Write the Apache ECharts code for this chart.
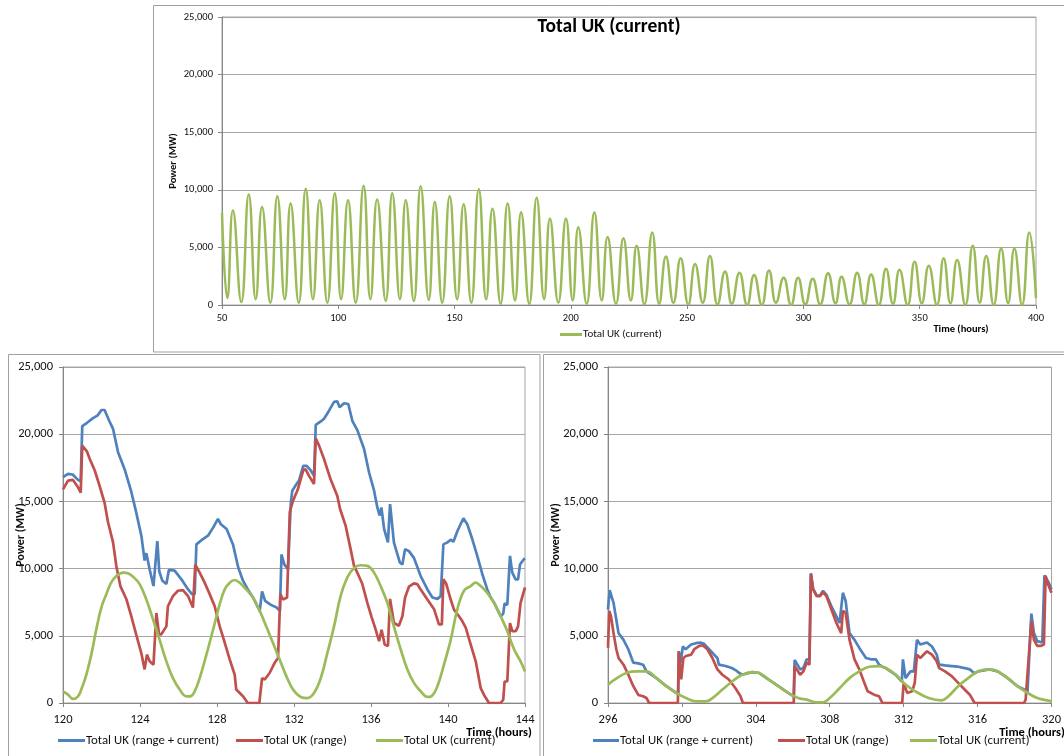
<!DOCTYPE html>
<html><head><meta charset="utf-8">
<script src="https://cdn.jsdelivr.net/npm/echarts@6/dist/echarts.min.js"></script>
<style>html,body{margin:0;padding:0;background:#fff}#c{width:1064px;height:756px}</style>
</head><body><div id="c"></div>
<script>
// ---------- DATA (hour, MW) ----------
const NAME_BOTH = 'Total UK (range + current)';
const NAME_RANGE = 'Total UK (range)';
const NAME_CURRENT = 'Total UK (current)';
const yTicks = [0, 5000, 10000, 15000, 20000, 25000];
const topXTicks = [50, 100, 150, 200, 250, 300, 350, 400];
const leftXTicks = [120, 124, 128, 132, 136, 140, 144];
const rightXTicks = [296, 300, 304, 308, 312, 316, 320];

// Top panel: Total UK (current), hours 50-400 (peaks and troughs)
const topCurrent = [[50,8000],[52.3,600],[54.7,8200],[58.3,250],[61.5,9600],[64.5,500],[67.2,8500],[70.8,200],[73.8,9450],[77.0,500],[79.5,8800],[83.0,200],[86.0,10100],[89.1,500],[92.0,9100],[95.3,200],[98.5,9700],[101.2,500],[104.2,9100],[107.5,200],[110.9,10350],[113.8,500],[116.7,9150],[120.4,350],[123.2,9700],[126.5,500],[129.0,9100],[132.5,350],[135.4,10300],[138.9,450],[141.5,8950],[144.7,200],[147.9,9450],[151.1,500],[153.9,8750],[157.2,200],[160.4,10050],[163.6,500],[166.3,8350],[169.8,100],[172.8,8800],[176.0,400],[178.6,8050],[182.1,100],[185.3,9300],[188.5,500],[191.0,7500],[194.6,200],[197.9,7500],[200.8,400],[203.2,6750],[206.8,100],[210.1,8050],[213.3,400],[215.8,5900],[219.4,100],[222.6,5800],[225.8,400],[228.3,5150],[231.6,50],[235.0,6300],[238.0,100],[240.9,4200],[244.1,200],[247.2,4050],[250.5,50],[253.4,3550],[256.7,200],[259.8,4250],[263.1,50],[266.3,2900],[269.2,100],[272.5,2800],[275.8,0],[278.8,2600],[282.1,0],[285.2,3000],[288.2,200],[291.5,2370],[294.7,0],[297.7,2370],[300.8,50],[304.0,2280],[307.2,50],[310.6,2750],[313.8,150],[316.4,2450],[319.8,50],[323.1,2800],[326.2,50],[329.1,2650],[332.4,0],[335.5,3150],[338.5,100],[341.3,3050],[344.8,0],[347.8,3750],[350.9,150],[353.9,3400],[357.4,0],[360.3,4050],[363.2,150],[366.1,3900],[369.6,0],[372.8,5150],[375.8,200],[378.6,4250],[381.8,0],[385.0,4900],[388.0,150],[390.7,4900],[394.0,0],[397.1,6300],[400,600]];

// Bottom-left panel: hours 120-144
const leftBoth = [[120.0,16800],[120.26,17050],[120.5,17000],[120.78,16600],[120.92,16500],[121.0,20600],[121.25,20850],[121.56,21200],[121.8,21400],[122.0,21800],[122.16,21800],[122.4,21000],[122.6,20400],[122.86,18650],[123.2,17400],[123.55,15700],[123.8,14200],[124.07,12450],[124.24,10600],[124.33,11150],[124.5,9950],[124.7,8700],[124.9,12050],[125.0,9800],[125.16,9100],[125.37,8850],[125.5,9900],[125.8,9850],[126.15,9200],[126.5,8450],[126.7,8100],[126.84,8100],[126.93,11800],[127.27,12200],[127.53,12450],[127.8,13050],[128.05,13700],[128.2,13300],[128.5,12950],[128.83,11800],[129.1,10100],[129.35,9100],[129.6,8450],[129.87,7850],[130.22,6850],[130.34,8300],[130.5,7600],[130.8,7300],[131.1,7100],[131.27,6850],[131.35,11050],[131.5,10300],[131.69,9950],[131.83,14800],[131.91,15800],[132.09,16200],[132.26,16550],[132.48,17650],[132.66,17650],[132.87,17300],[133.04,16900],[133.13,20700],[133.39,20950],[133.56,21150],[133.82,21750],[134.08,22400],[134.25,22450],[134.37,22000],[134.6,22300],[134.82,22250],[135.03,21000],[135.29,20300],[135.64,18900],[135.9,17150],[136.16,15800],[136.33,14550],[136.45,13950],[136.54,14550],[136.68,12950],[136.88,11950],[136.99,14800],[137.19,11950],[137.5,10450],[137.63,10300],[137.77,11450],[137.97,11300],[138.23,10800],[138.58,9450],[138.93,8450],[139.19,7850],[139.45,7750],[139.62,7950],[139.76,11800],[139.97,11950],[140.14,12150],[140.28,12000],[140.49,12800],[140.8,13750],[141.0,13300],[141.26,12200],[141.52,10950],[141.78,9600],[142.04,8450],[142.2,7900],[142.4,7450],[142.74,6450],[142.87,6650],[142.94,7400],[143.08,7300],[143.22,10950],[143.34,9700],[143.51,9200],[143.64,9200],[143.74,10300],[143.94,10700],[144.0,10750]];
const leftRange = [[120.0,15900],[120.26,16550],[120.52,16600],[120.78,16050],[120.92,15650],[121.0,19150],[121.25,18700],[121.39,18150],[121.65,17300],[121.9,16150],[122.16,14900],[122.34,13450],[122.6,11950],[122.77,10200],[122.98,8700],[123.3,7700],[123.55,6450],[123.8,5100],[124.07,3700],[124.24,2500],[124.36,3600],[124.5,3100],[124.7,2850],[124.85,6700],[124.99,5100],[125.1,5100],[125.37,5700],[125.45,7200],[125.71,7950],[125.97,8350],[126.23,8400],[126.5,7950],[126.75,7100],[126.87,10300],[127.1,9700],[127.36,8950],[127.62,8100],[127.88,7200],[128.14,5700],[128.4,4500],[128.66,3250],[128.92,2100],[129.0,1000],[129.35,500],[129.6,0],[130.2,0],[130.34,1850],[130.48,1750],[130.74,2250],[131.0,3000],[131.17,3350],[131.29,8100],[131.43,7700],[131.64,7850],[131.78,14200],[131.95,15050],[132.2,15900],[132.48,17300],[132.6,17400],[132.78,16900],[133.04,16300],[133.13,19700],[133.3,19150],[133.56,18150],[133.9,16650],[134.25,15400],[134.39,14450],[134.68,13200],[134.94,11450],[135.12,10200],[135.32,9600],[135.55,8850],[135.81,7450],[136.02,6450],[136.19,5700],[136.42,4600],[136.55,5450],[136.71,4350],[136.88,4250],[136.99,7750],[137.19,5950],[137.45,5750],[137.63,6450],[137.77,7850],[137.97,8650],[138.23,8900],[138.4,8850],[138.58,8450],[138.93,7700],[139.27,7000],[139.53,5850],[139.68,5850],[139.76,9200],[139.9,8900],[140.14,7700],[140.31,6950],[140.57,6450],[140.74,6100],[140.92,5600],[141.18,4350],[141.44,3100],[141.7,1100],[141.87,600],[142.13,0],[142.74,0],[142.87,250],[142.94,1600],[143.08,1600],[143.22,5950],[143.34,5350],[143.52,5350],[143.64,5700],[143.77,7450],[144.0,8600]];
const leftCurrent = [[120.0,870],[120.26,620],[120.52,300],[120.78,500],[120.95,1000],[121.21,2100],[121.47,3600],[121.73,5470],[121.99,7100],[122.25,8100],[122.5,8950],[122.77,9450],[123.12,9700],[123.38,9650],[123.64,9400],[123.98,8850],[124.33,7700],[124.68,6200],[125.02,4700],[125.37,3100],[125.71,1850],[126.06,1000],[126.41,500],[126.6,500],[126.84,870],[127.1,1850],[127.45,3600],[127.8,5470],[128.14,7350],[128.4,8450],[128.66,8950],[128.92,9150],[129.18,8950],[129.52,8450],[129.87,7850],[130.22,6850],[130.56,5700],[130.9,4500],[131.25,3250],[131.6,2000],[131.95,1000],[132.35,450],[132.69,370],[133.04,750],[133.39,1850],[133.73,3700],[134.08,5700],[134.42,7950],[134.77,9350],[135.12,10050],[135.46,10250],[135.81,10200],[136.16,9700],[136.5,8700],[136.85,7450],[137.19,5700],[137.54,4000],[137.89,2500],[138.23,1500],[138.58,870],[138.93,450],[139.13,500],[139.45,1250],[139.79,2850],[140.14,4700],[140.48,6950],[140.83,8350],[141.18,8700],[141.44,8950],[141.7,8700],[142.04,8200],[142.39,7450],[142.74,6450],[143.08,5350],[143.43,4000],[143.77,3100],[144.0,2350]];

// Bottom-right panel: hours 296-320
const rightBoth = [[296.0,6950],[296.09,8400],[296.18,8300],[296.3,7450],[296.45,6200],[296.57,5200],[296.84,4700],[297.1,4000],[297.37,3000],[297.64,2950],[297.9,2850],[298.08,2350],[298.62,1850],[299.16,1250],[299.69,750],[299.8,700],[299.83,3850],[299.93,3000],[300.05,4200],[300.2,4000],[300.5,4350],[300.76,4450],[301.0,4500],[301.2,4400],[301.47,4000],[301.74,3600],[301.92,3350],[302.0,2850],[302.36,2750],[302.7,2600],[302.9,2450],[303.08,2250],[303.26,2100],[303.8,2300],[304.15,2250],[304.68,1750],[305.22,1250],[305.75,750],[306.05,500],[306.1,3200],[306.4,2500],[306.57,2600],[306.75,3250],[306.9,3200],[306.98,9650],[307.1,8500],[307.29,8000],[307.47,8000],[307.64,8350],[307.82,8050],[308.09,7200],[308.36,6450],[308.53,5950],[308.71,8200],[308.86,7600],[309.07,5200],[309.34,4700],[309.6,4100],[309.96,3350],[310.23,3250],[310.5,3250],[310.67,2850],[310.85,2700],[311.03,2600],[311.57,2100],[311.9,1600],[311.96,3250],[312.1,1850],[312.37,2350],[312.55,2350],[312.72,4700],[312.9,4350],[313.26,4500],[313.53,4200],[313.79,3600],[313.92,2850],[314.24,2800],[314.6,2750],[314.95,2700],[315.3,2600],[315.58,2500],[315.84,2200],[316.02,2350],[316.65,2500],[317.09,2350],[317.63,1850],[318.16,1250],[318.52,1000],[318.7,800],[318.91,6650],[319.05,5200],[319.23,4600],[319.5,4500],[319.62,9500],[319.85,8950],[320.0,8450]];
const rightRange = [[296.0,4100],[296.07,6850],[296.16,6450],[296.3,5200],[296.45,4000],[296.57,3350],[296.84,2850],[297.1,2100],[297.37,1250],[297.64,600],[297.9,500],[298.08,370],[298.23,0],[299.78,0],[299.83,3850],[299.96,1750],[300.08,3350],[300.22,3500],[300.5,3600],[300.67,4000],[300.94,4250],[301.12,4300],[301.38,4000],[301.65,3350],[301.92,2500],[302.19,2100],[302.54,1750],[302.9,1100],[303.17,500],[303.3,0],[306.05,0],[306.1,2750],[306.4,2100],[306.57,2350],[306.75,3000],[306.9,2850],[306.98,9600],[307.1,8450],[307.29,7950],[307.47,7950],[307.64,8250],[307.82,7950],[308.09,6950],[308.36,5950],[308.62,5200],[308.71,6850],[308.86,6700],[309.07,4700],[309.34,3250],[309.6,2500],[309.87,1500],[310.05,870],[310.4,620],[310.67,500],[310.85,0],[311.92,0],[312.0,1500],[312.19,750],[312.46,870],[312.6,1500],[312.72,3600],[312.9,3350],[313.26,3850],[313.53,3600],[313.79,3100],[313.92,2600],[314.24,2350],[314.6,2000],[314.95,1500],[315.3,1000],[315.58,620],[315.84,0],[318.52,0],[318.6,250],[318.7,300],[318.91,6100],[319.05,4700],[319.23,4250],[319.41,4250],[319.59,4350],[319.68,9450],[319.85,8700],[320.0,8200]];
const rightCurrent = [[296.0,1370],[296.48,1850],[297.02,2250],[297.55,2350],[298.08,2350],[298.62,1850],[299.16,1250],[299.69,750],[300.22,370],[300.76,120],[301.29,120],[301.65,370],[302.19,1000],[302.72,1600],[303.26,2100],[303.8,2300],[304.15,2250],[304.68,1750],[305.22,1250],[305.75,750],[306.29,370],[306.75,250],[307.29,50],[307.64,50],[308.0,370],[308.53,1100],[309.07,1850],[309.6,2350],[310.14,2700],[310.67,2750],[311.03,2600],[311.57,2100],[312.1,1370],[312.63,870],[313.35,370],[314.06,200],[314.42,500],[314.95,1250],[315.49,1850],[316.02,2350],[316.65,2500],[317.09,2350],[317.63,1850],[318.16,1250],[318.7,750],[319.23,370],[319.76,200],[320.0,120]];

// ---------- STYLE ----------
const FONT = 'Carlito, Lato, sans-serif';
const BLUE = '#4F81BD', RED = '#C0504D', GREEN = '#9BBB59';
const AXIS = '#868686', GRIDC = '#A6A6A6', TXT = '#111';
const fmt = v => v.toLocaleString('en-US');

function xAxisCfg(gi, ticks, fs, margin) {
  return {
    type: 'value', gridIndex: gi, min: ticks[0], max: ticks[ticks.length - 1],
    interval: ticks[1] - ticks[0],
    axisLine: { show: true, onZero: false, lineStyle: { color: AXIS, width: 1 } },
    axisTick: { show: true, length: 4, lineStyle: { color: AXIS } },
    axisLabel: { fontFamily: FONT, fontSize: fs, color: TXT, margin: margin },
    splitLine: { show: false }
  };
}
function yAxisCfg(gi, fs, nameFs, gap, margin) {
  return {
    type: 'value', gridIndex: gi, min: yTicks[0], max: yTicks[yTicks.length - 1],
    interval: yTicks[1] - yTicks[0],
    name: 'Power (MW)', nameLocation: 'middle', nameGap: gap, nameRotate: 90,
    nameMoveOverlap: false,
    nameTextStyle: { fontFamily: FONT, fontSize: nameFs, fontWeight: 'bold', color: TXT },
    axisLine: { show: true, lineStyle: { color: AXIS, width: 1 } },
    axisTick: { show: true, length: 4, lineStyle: { color: AXIS } },
    axisLabel: { fontFamily: FONT, fontSize: fs, color: TXT, margin: margin, formatter: fmt },
    splitLine: { show: true, lineStyle: { color: GRIDC, width: 1 } }
  };
}
function line(name, data, color, xi, w, smooth) {
  return {
    type: 'line', name, data, xAxisIndex: xi, yAxisIndex: xi,
    showSymbol: false, symbol: 'none', smooth: smooth,
    lineStyle: { color, width: w }, itemStyle: { color }, animation: false
  };
}
function legendItem(name, left, top, fs, w) {
  return {
    data: [name], left, top, icon: 'rect', itemWidth: w, itemHeight: 3, itemGap: 0,
    padding: 0, selectedMode: false,
    textStyle: { fontFamily: FONT, fontSize: fs, color: TXT, padding: [0, 0, 0, -4] }
  };
}

const gridStyle = { show: true, borderColor: GRIDC, borderWidth: 1, backgroundColor: 'transparent', containLabel: false };

const option = {
  backgroundColor: '#fff',
  animation: false,
  grid: [
    Object.assign({ left: 222, top: 17, width: 814, height: 288 }, gridStyle),
    Object.assign({ left: 63, top: 367, width: 462, height: 336 }, gridStyle),
    Object.assign({ left: 608, top: 367, width: 450, height: 336 }, gridStyle)
  ],
  xAxis: [xAxisCfg(0, topXTicks, 10.5, 8), xAxisCfg(1, leftXTicks, 12.5, 10), xAxisCfg(2, rightXTicks, 12.5, 10)],
  yAxis: [yAxisCfg(0, 10.5, 10.5, 43, 9), yAxisCfg(1, 12.5, 12, 36, 10), yAxisCfg(2, 12.5, 12, 46, 10)],
  legend: [
    legendItem(NAME_CURRENT, 560, 329, 11, 22),
    legendItem(NAME_BOTH, 58, 734, 12.8, 27),
    legendItem(NAME_RANGE, 236, 734, 12.8, 27),
    legendItem(NAME_CURRENT, 376, 734, 12.8, 27),
    legendItem(NAME_BOTH, 593, 734, 12.8, 26),
    legendItem(NAME_RANGE, 778, 734, 12.8, 27),
    legendItem(NAME_CURRENT, 910, 734, 12.8, 27)
  ],
  series: [
    line(NAME_CURRENT, topCurrent, GREEN, 0, 2.5, 0.5),
    line(NAME_BOTH, leftBoth, BLUE, 1, 2.7, false),
    line(NAME_RANGE, leftRange, RED, 1, 2.7, false),
    line(NAME_CURRENT, leftCurrent, GREEN, 1, 2.7, 0.4),
    line(NAME_BOTH, rightBoth, BLUE, 2, 2.7, false),
    line(NAME_RANGE, rightRange, RED, 2, 2.7, false),
    line(NAME_CURRENT, rightCurrent, GREEN, 2, 2.7, 0.4)
  ],
  graphic: [
    { type: 'rect', shape: { x: 153.5, y: 5.5, width: 930, height: 346.5 }, style: { fill: 'none', stroke: '#A0A0A0', lineWidth: 1 }, silent: true, z: -1 },
    { type: 'rect', shape: { x: 8.5, y: 354.5, width: 531.5, height: 420 }, style: { fill: 'none', stroke: '#A0A0A0', lineWidth: 1 }, silent: true, z: -1 },
    { type: 'rect', shape: { x: 543.5, y: 354.5, width: 540, height: 420 }, style: { fill: 'none', stroke: '#A0A0A0', lineWidth: 1 }, silent: true, z: -1 },
    { type: 'text', x: 609, y: 27, style: { text: 'Total UK (current)', font: 'bold 19.5px ' + FONT, fill: '#000', textAlign: 'center', textVerticalAlign: 'middle' }, z: 10 },
    { type: 'text', x: 961, y: 329, style: { text: 'Time (hours)', font: 'bold 10.5px ' + FONT, fill: '#000', textAlign: 'center', textVerticalAlign: 'middle' }, z: 10 },
    { type: 'text', x: 499, y: 733, style: { text: 'Time (hours)', font: 'bold 12.5px ' + FONT, fill: '#000', textAlign: 'center', textVerticalAlign: 'middle' }, z: 10 },
    { type: 'text', x: 1032, y: 733, style: { text: 'Time (hours)', font: 'bold 12.5px ' + FONT, fill: '#000', textAlign: 'center', textVerticalAlign: 'middle' }, z: 10 }
  ]
};

const chart = echarts.init(document.getElementById('c'), null, { renderer: 'canvas', width: 1064, height: 756 });
chart.setOption(option);
</script>
</body></html>
